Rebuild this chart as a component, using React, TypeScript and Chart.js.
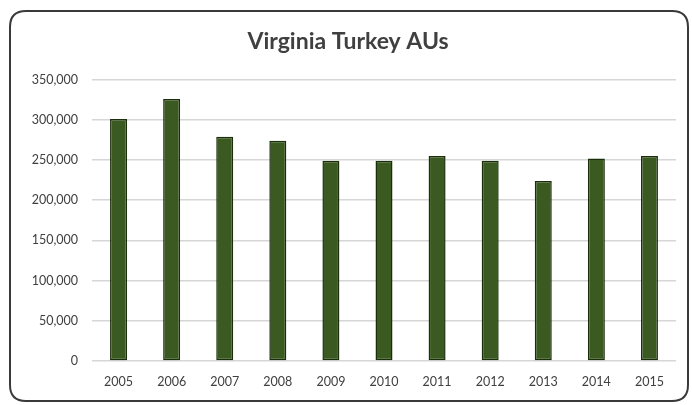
import React, { useEffect, useRef } from "react";
import { Chart, registerables } from "chart.js";

Chart.register(...registerables);

const years = ["2005", "2006", "2007", "2008", "2009", "2010", "2011", "2012", "2013", "2014", "2015"];
const turkeyAUs = [301000, 326000, 279000, 274000, 249000, 249000, 255000, 249000, 224000, 252000, 255000];
const yTicks = [0, 50000, 100000, 150000, 200000, 250000, 300000, 350000];
const chartTitle = "Virginia Turkey AUs";

const framePlugin = {
  id: "frame",
  beforeDraw(chart: any) {
    const ctx = chart.ctx;
    const x = 10, y = 11, w = 678, h = 390, r = 16;
    ctx.save();
    ctx.fillStyle = "#ffffff";
    ctx.fillRect(0, 0, chart.width, chart.height);
    ctx.beginPath();
    ctx.moveTo(x + r, y);
    ctx.lineTo(x + w - r, y);
    ctx.quadraticCurveTo(x + w, y, x + w, y + r);
    ctx.lineTo(x + w, y + h - r);
    ctx.quadraticCurveTo(x + w, y + h, x + w - r, y + h);
    ctx.lineTo(x + r, y + h);
    ctx.quadraticCurveTo(x, y + h, x, y + h - r);
    ctx.lineTo(x, y + r);
    ctx.quadraticCurveTo(x, y, x + r, y);
    ctx.closePath();
    ctx.lineWidth = 2;
    ctx.strokeStyle = "#3a3a3a";
    ctx.stroke();
    ctx.restore();
  },
};

export default function App() {
  const ref = useRef<HTMLCanvasElement>(null);
  useEffect(() => {
    if (!ref.current) return;
    const chart = new Chart(ref.current, {
      type: "bar",
      data: {
        labels: years,
        datasets: [
          {
            data: turkeyAUs,
            backgroundColor: "#3A5A22",
            borderColor: "#1A2E0C",
            borderWidth: 1.5,
            borderSkipped: false,
            barPercentage: 0.64,
            categoryPercentage: 0.5,
          },
        ],
      },
      options: {
        responsive: false,
        animation: false,
        layout: { padding: { left: 20, right: 16, top: 0, bottom: 3 } },
        plugins: {
          legend: { display: false },
          tooltip: { enabled: false },
          title: {
            display: true,
            text: chartTitle,
            color: "#404040",
            font: { family: "Lato", size: 23, weight: "bold" },
            padding: { top: 28, bottom: 24 },
          },
        },
        scales: {
          x: {
            grid: { display: false, drawTicks: false },
            border: { display: false },
            ticks: {
              color: "#404040",
              font: { family: "Lato", size: 12.5 },
              padding: 13,
              maxRotation: 0,
            },
          },
          y: {
            min: 0,
            max: 350000,
            afterFit(scale: any) {
              scale.width = 72;
            },
            afterBuildTicks(scale: any) {
              scale.ticks = yTicks.map((v) => ({ value: v }));
            },
            grid: { color: "#d6d6d6", lineWidth: 1.5, drawTicks: false },
            border: { display: false },
            ticks: {
              color: "#404040",
              font: { family: "Lato", size: 12.5 },
              padding: 14,
              callback: (v: any) => Number(v).toLocaleString("en-US"),
            },
          },
        },
      },
      plugins: [framePlugin],
    });
    return () => chart.destroy();
  }, []);
  return (
    <div style={{ position: "fixed", left: 0, top: 0, width: 692, height: 405 }}>
      <canvas ref={ref} width={692} height={405} style={{ display: "block" }} />
    </div>
  );
}
